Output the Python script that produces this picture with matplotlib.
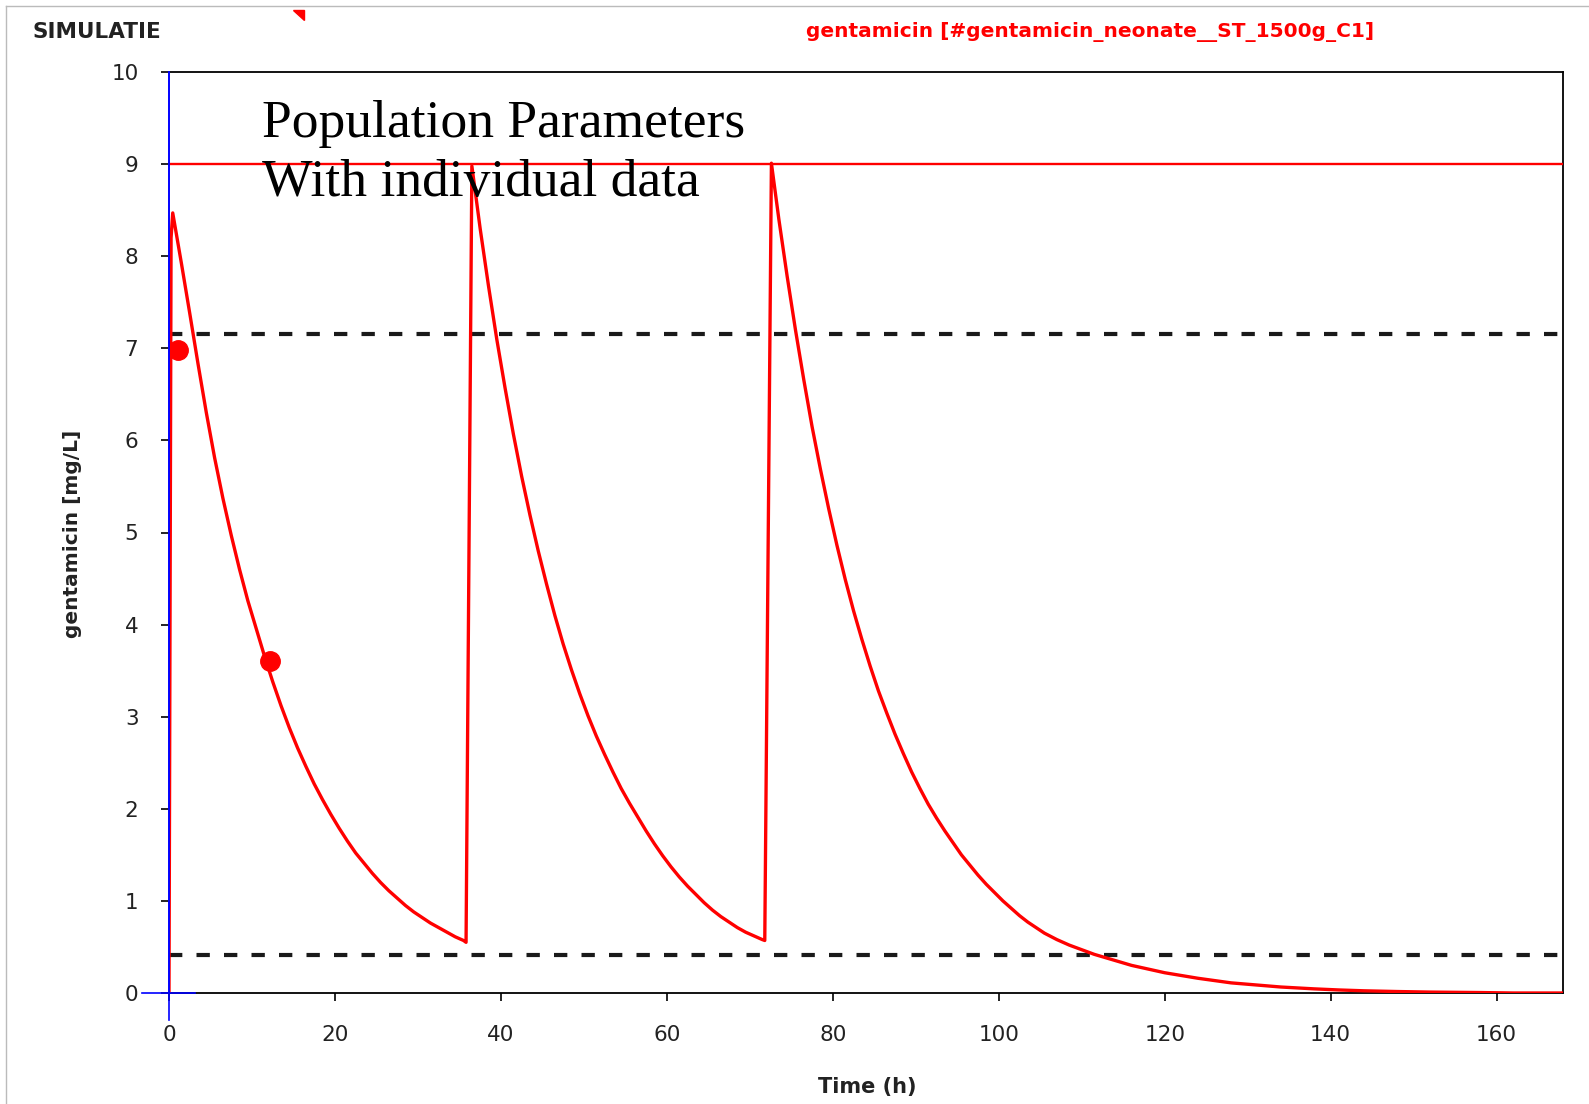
import matplotlib
matplotlib.use("Agg")
import matplotlib.pyplot as plt
from matplotlib.patches import Polygon
from matplotlib.lines import Line2D

# data (time in h, concentration in mg/L)
sim_time = [0.0, 0.25, 0.45, 1.5, 2.5, 3.5, 4.5, 5.5, 6.5, 7.5, 8.5, 9.5, 10.5, 11.5,
            12.5, 13.5, 14.5, 15.5, 16.5, 17.5, 18.5, 19.5, 20.5, 21.5, 22.5, 23.5,
            24.5, 25.5, 26.5, 27.5, 28.5, 29.5, 30.5, 31.5, 32.5, 33.5, 34.5, 35.5, 35.8,
            36.5, 37.5, 38.5, 39.5, 40.5, 41.5, 42.5, 43.5, 44.5, 45.5, 46.5, 47.5,
            48.5, 49.5, 50.5, 51.5, 52.5, 53.5, 54.5, 55.5, 56.5, 57.5, 58.5, 59.5,
            60.5, 61.5, 62.5, 63.5, 64.5, 65.5, 66.5, 67.5, 68.5, 69.5, 70.5, 71.5, 71.8,
            72.6, 73.5, 74.5, 75.5, 76.5, 77.5, 78.5, 79.5, 80.5, 81.5, 82.5, 83.5,
            84.5, 85.5, 86.5, 87.5, 88.5, 89.5, 90.5, 91.5, 92.5, 93.5, 94.5, 95.5,
            96.5, 97.5, 98.5, 99.5, 100.5, 101.5, 102.5, 103.5, 104.5, 105.5, 107,
            108.5, 110, 111.5, 113, 114.5, 116, 118, 120, 122, 124, 126, 128, 130,
            132, 134, 136, 138, 141, 144, 148, 152, 158, 162, 168]
sim_conc = [0.0, 8.2, 8.47, 7.92, 7.38, 6.83, 6.30, 5.81, 5.37, 4.97, 4.60, 4.26, 3.96,
            3.66, 3.38, 3.12, 2.88, 2.66, 2.46, 2.27, 2.10, 1.94, 1.79, 1.65, 1.52, 1.41,
            1.30, 1.20, 1.11, 1.03, 0.95, 0.88, 0.82, 0.76, 0.71, 0.66, 0.61, 0.57, 0.55,
            8.98, 8.30, 7.68, 7.10, 6.57, 6.07, 5.61, 5.19, 4.80, 4.44, 4.10, 3.79,
            3.51, 3.25, 3.01, 2.79, 2.59, 2.40, 2.22, 2.06, 1.91, 1.76, 1.62, 1.49,
            1.37, 1.26, 1.16, 1.07, 0.98, 0.90, 0.83, 0.77, 0.71, 0.66, 0.62, 0.58, 0.57,
            9.01, 8.40, 7.78, 7.20, 6.66, 6.15, 5.69, 5.26, 4.86, 4.49, 4.15, 3.84,
            3.55, 3.28, 3.04, 2.81, 2.60, 2.40, 2.22, 2.05, 1.90, 1.76, 1.63, 1.50,
            1.39, 1.28, 1.18, 1.09, 1.00, 0.92, 0.84, 0.77, 0.71, 0.65, 0.58,
            0.52, 0.47, 0.42, 0.38, 0.34, 0.30, 0.26, 0.22, 0.19, 0.16, 0.135, 0.11, 0.095,
            0.08, 0.065, 0.055, 0.045, 0.033, 0.024, 0.016, 0.01, 0.005, 0.0, 0.0]

obs_time = [1.05, 12.17]
obs_conc = [6.98, 3.60]

max_level = 9.0
upper_target = 7.15
lower_target = 0.41

xticks = [0, 20, 40, 60, 80, 100, 120, 140, 160]
yticks = [0, 1, 2, 3, 4, 5, 6, 7, 8, 9, 10]

W, H = 1589, 1104
fig = plt.figure(figsize=(W / 100, H / 100), dpi=100)
fig.patch.set_facecolor("white")

def fx(px):
    return px / W

def fy(py):
    return 1 - py / H

ax = fig.add_axes([fx(169), fy(993), fx(1563) - fx(169), fy(72) - fy(993)])
ax.set_xlim(0, 168)
ax.set_ylim(0, 10)

# reference lines
ax.axhline(max_level, color="red", lw=1.7, zorder=3)
ax.axhline(upper_target, color="#1a1a1a", lw=3, dashes=(3.2, 3.4), zorder=2)
ax.axhline(lower_target, color="#1a1a1a", lw=3, dashes=(3.2, 3.4), zorder=2)

# simulated profile and observations
ax.plot(sim_time, sim_conc, color="red", lw=2.4, zorder=4)
ax.plot(obs_time, obs_conc, "o", color="red", ms=14, mec="red", zorder=5)

# spines and ticks
for s in ["top", "right", "bottom"]:
    ax.spines[s].set_color("black")
    ax.spines[s].set_linewidth(1.3)
ax.spines["left"].set_color("blue")
ax.spines["left"].set_linewidth(1.2)
ax.spines["left"].set_zorder(6)

ax.set_xticks(xticks)
ax.set_yticks(yticks)
ax.tick_params(axis="both", length=6, width=1.2, color="black",
               labelsize=15.5, labelcolor="#222222")
ax.tick_params(axis="y", pad=16)
ax.tick_params(axis="x", pad=17)
for lab in ax.get_xticklabels() + ax.get_yticklabels():
    lab.set_family("DejaVu Sans")

# blue cursor lines at origin
ax.add_line(Line2D([0, 0], [-0.29, 10], color="blue", lw=1.2, clip_on=False, zorder=6))
ax.add_line(Line2D([-3.25, 3.13], [0, 0], color="blue", lw=1.2, clip_on=False, zorder=6))

# texts
fig.text(fx(33), fy(31.7), "SIMULATIE", fontsize=15.5, fontweight="bold",
         family="DejaVu Sans", color="#222222", ha="left", va="center")
fig.text(fx(806), fy(32.4), "gentamicin [#gentamicin_neonate__ST_1500g_C1]",
         fontsize=14.5, fontweight="bold", family="DejaVu Sans", color="red",
         ha="left", va="center")
fig.text(fx(73), fy(534), "gentamicin [mg/L]", fontsize=14.5, fontweight="bold",
         family="DejaVu Sans", color="#222222", rotation=90, ha="center", va="center")
fig.text(fx(867), fy(1087), "Time (h)", fontsize=15, fontweight="bold",
         family="DejaVu Sans", color="#222222", ha="center", va="center")

fig.text(fx(262), fy(137), "Population Parameters", fontsize=38.5,
         family="Liberation Serif", color="black", ha="left", va="baseline")
fig.text(fx(262), fy(196), "With individual data", fontsize=38.5,
         family="Liberation Serif", color="black", ha="left", va="baseline")

# frame and small red corner marker
fig.add_artist(Line2D([fx(6), fx(6)], [fy(6), 0], color="#bbbbbb", lw=1))
fig.add_artist(Line2D([fx(6), 1], [fy(6), fy(6)], color="#bbbbbb", lw=1))
fig.add_artist(Polygon([[fx(293), fy(9.5)], [fx(304), fy(9.5)], [fx(304), fy(19.5)]],
                       closed=True, color="red", transform=fig.transFigure))

fig.savefig("out.png", dpi=100)
